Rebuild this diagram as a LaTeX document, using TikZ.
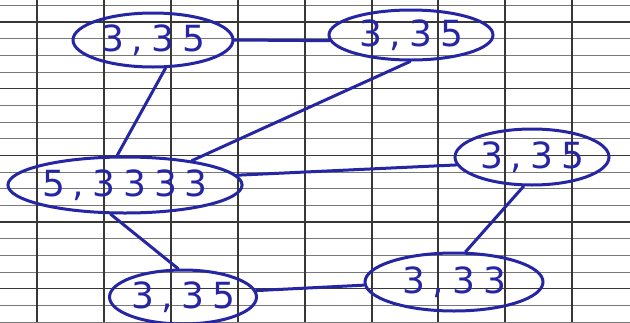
\documentclass[tikz,border=0pt]{standalone}
\usepackage{fontspec}
\setmainfont{DejaVu Sans}[LetterSpace=22]
\usetikzlibrary{shapes.geometric}
\definecolor{ink}{RGB}{38,38,165}
\definecolor{gridthin}{RGB}{120,120,120}
\definecolor{gridthick}{RGB}{55,55,55}
\tikzset{
  val/.style={ellipse, draw=ink, line width=3pt, inner sep=0pt, text=ink, font=\fontsize{36}{40}\selectfont},
  edge/.style={draw=ink, line width=3pt, line cap=round}
}
\begin{document}
\begin{tikzpicture}[x=1pt,y=-1pt]
\useasboundingbox (0,0) rectangle (630,322);
\fill[white] (0,0) rectangle (630,322);
% grid
\foreach \k in {0,...,19}{
  \pgfmathtruncatemacro{\m}{mod(\k,4)}
  \ifnum\m=1
    \draw[gridthick, line width=1.4pt] (0,{5.3+16.67*\k}) -- (630,{5.3+16.67*\k});
  \else
    \draw[gridthin, line width=0.9pt] (0,{5.3+16.67*\k}) -- (630,{5.3+16.67*\k});
  \fi
}
\foreach \x in {37,104,171,238,305,372,438,505,572}{
  \draw[gridthick, line width=1.3pt] (\x,0) -- (\x,322);
}
% nodes
\node[val, minimum width=160pt, minimum height=54pt] (a) at (153,40) {3,35};
\node[val, minimum width=164pt, minimum height=50pt] (b) at (411,35) {3,35};
\node[val, minimum width=226pt, minimum height=56pt] (c) at (125,185) {5,3333};
\node[val, minimum width=154pt, minimum height=56pt] (d) at (532,157) {3,35};
\node[val, minimum width=146pt, minimum height=54pt] (e) at (183,297) {3,35};
\node[val, minimum width=178pt, minimum height=58pt] (f) at (454,282) {3,33};
% edges
\draw[edge] (a.east) -- (b.184);
\draw[edge] (a.-66) -- (c.105);
\draw[edge] (b.-92) -- (c.20);
\draw[edge] (c.5) -- (d.186);
\draw[edge] (c.-116) -- (e.100);
\draw[edge] (d.-106) -- (f.69);
\draw[edge] (e.5) -- (f.182);
\end{tikzpicture}
\end{document}
